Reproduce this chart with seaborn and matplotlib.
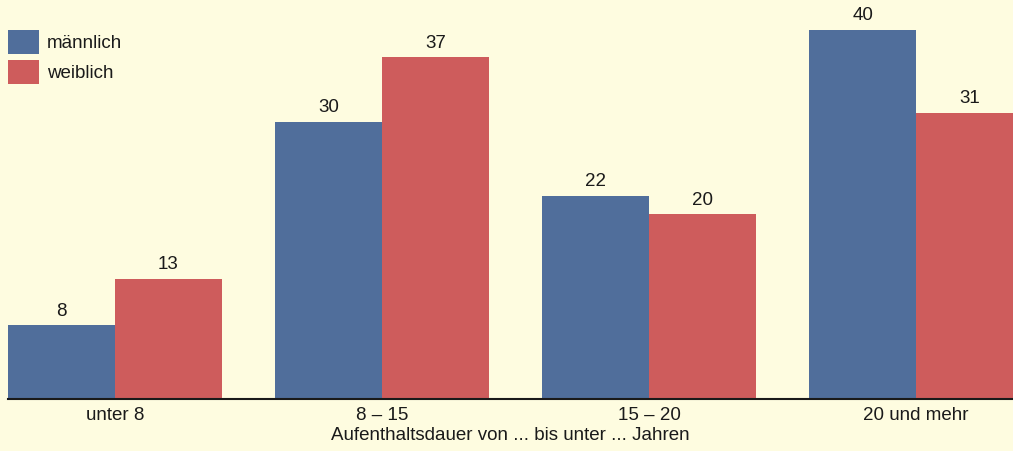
import matplotlib
matplotlib.use("Agg")
import matplotlib.pyplot as plt
import seaborn as sns
import pandas as pd
from matplotlib.patches import Patch

categories = ["unter 8", "8 – 15", "15 – 20", "20 und mehr"]
maennlich = [8, 30, 22, 40]
weiblich = [13, 37, 20, 31]
series_names = ["männlich", "weiblich"]
xlabel = "Aufenthaltsdauer von ... bis unter ... Jahren"

bg = "#FEFCE0"
colors = ["#506E9B", "#CE5C5C"]
fs = 13.5

df = pd.DataFrame({
    "Kategorie": categories * 2,
    "Wert": maennlich + weiblich,
    "Geschlecht": [series_names[0]] * len(categories) + [series_names[1]] * len(categories),
})

sns.set_theme(style="white")
plt.rcParams["font.family"] = ["Liberation Sans", "DejaVu Sans"]

fig = plt.figure(figsize=(10.13, 4.51), dpi=100, facecolor=bg)
ax = fig.add_axes([8 / 1013, (451 - 399) / 451, 1 - 8 / 1013, 399 / 451])
ax.set_facecolor(bg)

sns.barplot(data=df, x="Kategorie", y="Wert", hue="Geschlecht",
            palette=colors, width=0.8, saturation=1, ax=ax,
            edgecolor="none", linewidth=0, legend=False)

for cont in ax.containers:
    ax.bar_label(cont, labels=[f"{int(v)}" for v in cont.datavalues],
                 padding=4, fontsize=fs, color="#1a1a1a")

ax.set_xlim(-0.4, 3.363)
ax.set_ylim(0, 43.2)
ax.set_yticks([])
ax.set_ylabel("")
for s in ["left", "right", "top"]:
    ax.spines[s].set_visible(False)
ax.spines["bottom"].set_color("#1a1a1a")
ax.spines["bottom"].set_linewidth(1.5)
ax.tick_params(axis="x", length=0, pad=6, labelsize=fs, colors="#1a1a1a")
ax.set_xlabel(xlabel, fontsize=fs, color="#1a1a1a", labelpad=2)

handles = [Patch(facecolor=c, edgecolor="none") for c in colors]
fig.legend(handles, series_names, loc="upper left",
           bbox_to_anchor=(8 / 1013, 1 - 30 / 451), frameon=False,
           fontsize=fs, handlelength=1.65, handleheight=1.6,
           handletextpad=0.42, labelspacing=0.32, borderpad=0, borderaxespad=0,
           labelcolor="#1a1a1a")

fig.savefig("out.png", dpi=100, facecolor=bg)
